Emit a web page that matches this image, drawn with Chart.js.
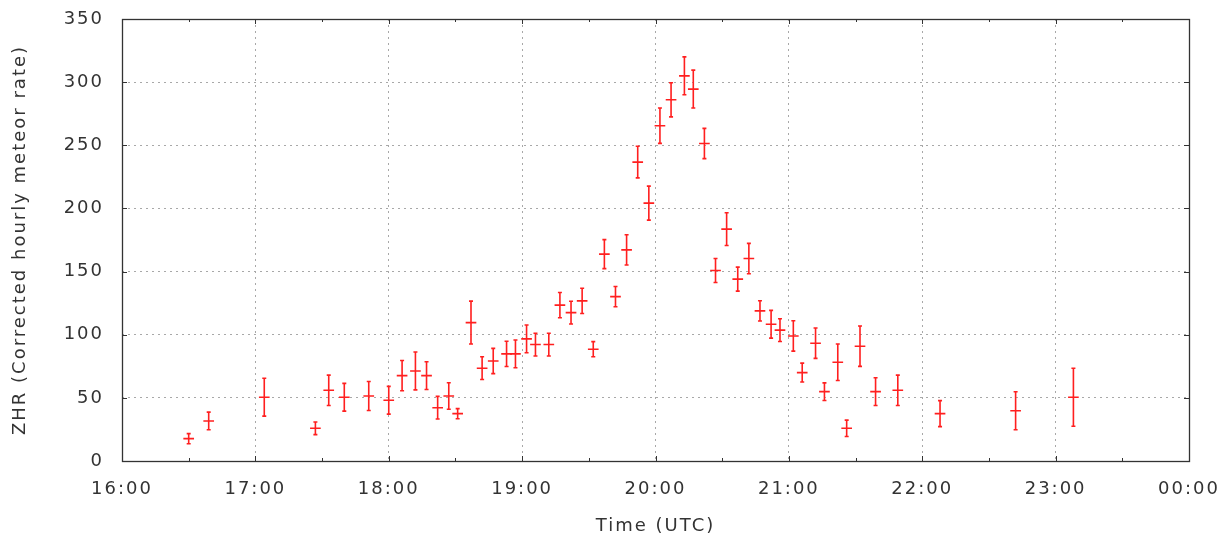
<!DOCTYPE html>
<html>
<head>
<meta charset="utf-8">
<script src="https://cdn.jsdelivr.net/npm/chart.js@4/dist/chart.umd.min.js"></script>
<style>
  html, body { margin: 0; padding: 0; background: #fff; }
  #wrap { width: 1227px; height: 537px; }
</style>
</head>
<body>
<div id="wrap"><canvas id="zhr"></canvas></div>
<script>
// observation times (UTC), ZHR and its error
const times = ['16:30', '16:39', '17:04', '17:27', '17:33', '17:40', '17:51', '18:00', '18:06', '18:12',
  '18:17', '18:22', '18:27', '18:31', '18:37', '18:42', '18:47', '18:53', '18:57', '19:02',
  '19:06', '19:12', '19:17', '19:22', '19:27', '19:32', '19:37', '19:42', '19:47', '19:52',
  '19:57', '20:02', '20:07', '20:13', '20:17', '20:22', '20:27', '20:32', '20:37', '20:42',
  '20:47', '20:52', '20:56', '21:02', '21:06', '21:12', '21:16', '21:22', '21:26', '21:32',
  '21:39', '21:49', '22:08', '22:42', '23:08'];
const zhr = [17.7, 31.7, 50.5, 25.9, 56, 50.5, 51.5, 48.1, 67.6, 71.3,
  67.6, 42.2, 51.5, 37.5, 109.6, 73.5, 79.2, 84.8, 84.8, 96.7,
  92.2, 92.2, 123.4, 117.5, 126.8, 88.5, 163.8, 130.2, 167.2, 236.7,
  204.2, 265.5, 286, 305, 294.5, 251.4, 150.8, 183.6, 144, 160.3,
  118.9, 108.3, 103.6, 99, 70, 93.3, 54.9, 78.2, 25.9, 90.9,
  54.9, 56, 37.5, 39.8, 50.5];
const zhrErr = [4, 7, 15, 5, 12, 11, 11.5, 11, 12, 15,
  11, 9, 10.5, 4, 17, 9, 10, 10, 11, 11,
  9, 9, 10, 9, 10, 6, 11.5, 8, 12, 12.5,
  13.5, 14, 13.5, 15, 15, 12, 9.5, 13, 9.5, 12,
  8, 11, 9, 12, 7.5, 12, 7, 14.5, 6.5, 16,
  11, 12, 10.3, 15, 23];
const timeErrMin = 2.4;

const hourLabels = ['16:00', '17:00', '18:00', '19:00', '20:00', '21:00', '22:00', '23:00', '00:00'];
const yTicks = [0, 50, 100, 150, 200, 250, 300, 350];

const minutesSince16 = t => {
  const [h, m] = t.split(':').map(Number);
  return (h - 16) * 60 + m;
};

const points = times.map((t, i) => ({ x: minutesSince16(t), y: zhr[i], err: zhrErr[i] }));

const RED = '#ff1f1f';
const INK = '#333333';

// gnuplot-ish wide text spacing; canvas resets state on resize so set it often
const spacing = {
  id: 'spacing',
  beforeLayout(chart) { chart.ctx.letterSpacing = '2px'; },
  beforeDraw(chart) { chart.ctx.letterSpacing = '2px'; }
};

const errorBars = {
  id: 'errorBars',
  afterDatasetsDraw(chart) {
    const { ctx, scales: { x, y } } = chart;
    ctx.save();
    ctx.strokeStyle = RED;
    ctx.lineWidth = 1.6;
    points.forEach(p => {
      const px = x.getPixelForValue(p.x);
      const py = y.getPixelForValue(p.y);
      const top = y.getPixelForValue(p.y + p.err);
      const bot = y.getPixelForValue(p.y - p.err);
      const xl = x.getPixelForValue(p.x - timeErrMin);
      const xr = x.getPixelForValue(p.x + timeErrMin);
      ctx.beginPath();
      ctx.moveTo(px, top); ctx.lineTo(px, bot);
      ctx.moveTo(px - 2, top); ctx.lineTo(px + 2, top);
      ctx.moveTo(px - 2, bot); ctx.lineTo(px + 2, bot);
      ctx.moveTo(xl, py); ctx.lineTo(xr, py);
      ctx.stroke();
    });
    ctx.restore();
  }
};

const frame = {
  id: 'frame',
  afterDraw(chart) {
    const { ctx, chartArea: a, scales: { x, y } } = chart;
    ctx.save();
    ctx.strokeStyle = INK;
    ctx.lineWidth = 1;
    ctx.beginPath();
    // ticks on the time axis, hours and half hours, bottom and top
    for (let m = 30; m < 480; m += 30) {
      const px = Math.round(x.getPixelForValue(m)) + 0.5;
      const len = m % 60 === 0 ? 5 : 3;
      ctx.moveTo(px, a.bottom); ctx.lineTo(px, a.bottom - len);
      ctx.moveTo(px, a.top); ctx.lineTo(px, a.top + len);
    }
    yTicks.slice(1, -1).forEach(v => {
      const py = Math.round(y.getPixelForValue(v)) + 0.5;
      ctx.moveTo(a.left, py); ctx.lineTo(a.left + 5, py);
      ctx.moveTo(a.right, py); ctx.lineTo(a.right - 5, py);
    });
    ctx.stroke();
    ctx.lineWidth = 1.3;
    ctx.strokeRect(Math.round(a.left) + 0.5, Math.round(a.top) + 0.5,
      Math.round(a.right - a.left), Math.round(a.bottom - a.top));
    ctx.restore();
  }
};

const font = { family: 'DejaVu Sans', size: 18 };
const edgeless = (max) => c => (c.tick && (c.tick.value === 0 || c.tick.value === max)) ? 'rgba(0,0,0,0)' : '#a8a8a8';

new Chart(document.getElementById('zhr'), {
  type: 'scatter',
  data: {
    datasets: [{
      label: 'ZHR',
      data: points,
      pointRadius: 0,
      pointHoverRadius: 0
    }]
  },
  options: {
    responsive: true,
    maintainAspectRatio: false,
    animation: false,
    events: [],
    layout: { padding: { top: 19, right: 38, left: 0, bottom: 0 } },
    plugins: { legend: { display: false }, tooltip: { enabled: false } },
    scales: {
      x: {
        type: 'linear',
        min: 0,
        max: 480,
        afterFit: s => { s.height = 76; s.paddingLeft = 0; s.paddingRight = 0; },
        afterBuildTicks: s => { s.ticks = hourLabels.map((l, i) => ({ value: i * 60 })); },
        ticks: {
          callback: (v, i) => hourLabels[i],
          color: INK,
          font: font,
          padding: 18,
          maxRotation: 0,
          autoSkip: false
        },
        grid: { color: edgeless(480), lineWidth: 1, drawTicks: false },
        border: { display: false, dash: [2, 4] },
        title: { display: true, text: 'Time (UTC)', color: INK, font: font, padding: { top: 0, bottom: 0 } }
      },
      y: {
        min: 0,
        max: 350,
        afterFit: s => { s.width = 122; s.paddingTop = 0; s.paddingBottom = 0; },
        afterBuildTicks: s => { s.ticks = yTicks.map(v => ({ value: v })); },
        ticks: { color: INK, font: font, padding: 18 },
        grid: { color: edgeless(350), lineWidth: 1, drawTicks: false },
        border: { display: false, dash: [2, 4] },
        title: { display: true, text: 'ZHR (Corrected hourly meteor rate)', color: INK, font: font, padding: { top: 10, bottom: 0 } }
      }
    }
  },
  plugins: [spacing, errorBars, frame]
});
</script>
</body>
</html>
